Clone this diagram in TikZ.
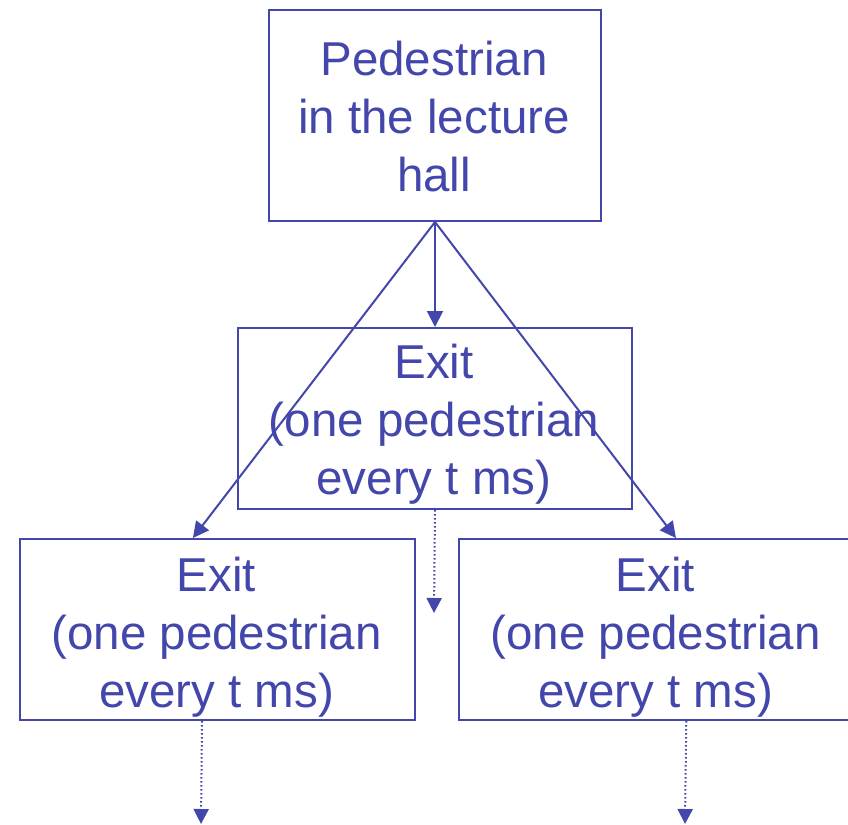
\documentclass[tikz,border=0pt]{standalone}
\usepackage{fontspec}
\setmainfont{Liberation Sans}
\usetikzlibrary{arrows.meta,calc}
\definecolor{ink}{RGB}{67,70,170}
\begin{document}
\begin{tikzpicture}[x=1pt,y=-1pt,
  box/.style={draw=ink, line width=2pt, rectangle, inner sep=0pt, anchor=north west},
  caption/.style={text=ink, font=\fontsize{47.5}{58}\selectfont, align=center, inner sep=0pt, anchor=north},
  flow/.style={draw=ink, line width=2pt, -{Triangle[length=16pt,width=16pt]}},
  outflow/.style={draw=ink, line width=2pt, dash pattern=on 1.6pt off 2.4pt, -{Triangle[length=15pt,width=15pt]}}]
  \useasboundingbox (0,0) rectangle (848,824);

  % boxes
  \node[box, minimum width=332pt, minimum height=211pt] (hall) at (268,9) {};
  \node[box, minimum width=394pt, minimum height=181pt] (mid) at (237,327) {};
  \node[box, minimum width=395pt, minimum height=181pt] (left) at (19,538) {};
  \node[box, minimum width=395pt, minimum height=181pt] (right) at (458,538) {};

  % texts
  \node[caption] (hallt) at (434,34.4) {\strut Pedestrian\\in the lecture\\hall};
  \node[caption] (midt) at (434,337.7) {\strut Exit\\(one pedestrian\\every t ms)};
  \node[caption] (leftt) at (216.5,551.1) {\strut Exit\\(one pedestrian\\every t ms)};
  \node[caption] (rightt) at (655.5,551.1) {\strut Exit\\(one pedestrian\\every t ms)};

  % open ends of the outgoing flows
  \coordinate (midend) at (434,613);
  \coordinate (leftend) at (201,824);
  \coordinate (rightend) at (685,824);

  % flows from the hall to the exits
  \draw[flow] (hall.south) -- (mid.north);
  \draw[flow] (hall.south) -- ($(left.north west)!0.438!(left.north east)$);
  \draw[flow] (hall.south) -- ($(right.north west)!0.549!(right.north east)$);

  % pedestrians leaving through the exits
  \draw[outflow] (mid.south) -- (midend);
  \draw[outflow] ($(left.south west)!0.461!(left.south east)$) -- (leftend);
  \draw[outflow] ($(right.south west)!0.575!(right.south east)$) -- (rightend);
\end{tikzpicture}
\end{document}
